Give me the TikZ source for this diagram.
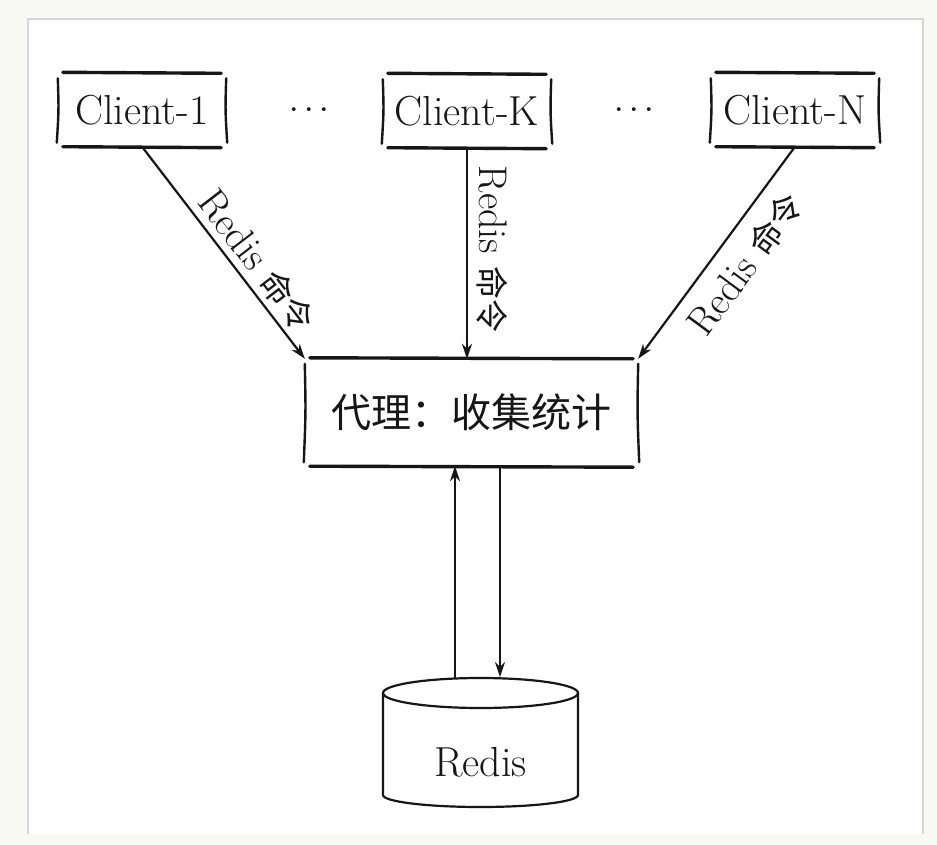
\documentclass[tikz,border=0pt]{standalone}
\usepackage{fontspec}
\usepackage{xcolor}
\usepackage{tikz}
\usetikzlibrary{arrows.meta}
\newfontfamily\cjk{Noto Sans CJK SC}
\definecolor{pageColor}{RGB}{249,249,244}
\definecolor{frameColor}{RGB}{214,214,214}
\definecolor{inkColor}{RGB}{22,22,22}

\tikzset{
  clientbox/.style={minimum width=168pt, minimum height=73pt, inner sep=0pt,
    text=inkColor, font=\fontsize{42}{46}\selectfont},
  proxybox/.style={minimum width=333pt, minimum height=107pt, inner sep=0pt,
    text=inkColor, font=\cjk\fontsize{40}{44}\selectfont},
  cmdlabel/.style={text=inkColor, inner sep=2pt, font=\fontsize{40}{44}\selectfont},
  gap/.style={text=inkColor, inner sep=0pt, font=\fontsize{46}{48}\selectfont},
  arr/.style={draw=inkColor, line width=2.2pt, -{Stealth[length=15pt,width=10pt]}},
  edge line/.style={draw=inkColor, line width=3.4pt, line cap=round},
  side line/.style={draw=inkColor, line width=2.4pt, line cap=round},
}

% hand drawn outline round a node
\newcommand{\sketchbox}[1]{%
  \draw[edge line] ([xshift=5pt,yshift=1pt]#1.north west) -- ([xshift=-5pt]#1.north east);
  \draw[edge line] ([xshift=5pt]#1.south west) -- ([xshift=-5pt,yshift=-1pt]#1.south east);
  \draw[side line] ([yshift=-5pt]#1.north west) .. controls ([xshift=1pt]#1.west) .. ([xshift=-1pt,yshift=4pt]#1.south west);
  \draw[side line] ([yshift=-5pt]#1.north east) .. controls ([xshift=-1pt]#1.east) .. ([xshift=1pt,yshift=4pt]#1.south east);
}
\newcommand{\cmd}{Redis {\cjk\fontsize{33}{36}\selectfont 命令}}
\newcommand{\spacedots}{.\kern3.5pt.\kern3.5pt.}

\begin{document}
\begin{tikzpicture}[x=1pt,y=-1pt]
\path[use as bounding box,fill=pageColor] (0,0) rectangle (937,845);
\fill[white] (28,19) rectangle (923,834);
\draw[frameColor, line width=1.5pt] (28,834) -- (28,19) -- (923,19) -- (923,834);

% clients
\node[clientbox] (c1) at (142,110) {Client-1};
\node[clientbox] (ck) at (467,111) {Client-K};
\node[clientbox] (cn) at (795,110) {Client-N};
\node[gap] (dots1) at (309,110) {\spacedots};
\node[gap] (dots2) at (634,110) {\spacedots};
\sketchbox{c1}
\sketchbox{ck}
\sketchbox{cn}

% proxy
\node[proxybox] (proxy) at (471.5,412.5) {代理：收集统计};
\sketchbox{proxy}

\draw[arr] (c1.south) -- node[cmdlabel, sloped, above=3pt, pos=0.6] {\cmd} (proxy.north west);
\draw[arr] (ck.south) -- node[cmdlabel, sloped, above=7pt, pos=0.48] {\cmd} (ck.south |- proxy.north);
\draw[arr] (cn.south) -- node[cmdlabel, sloped, below=12pt, pos=0.47] {\cmd} (proxy.north east);

% redis store
\node[text=inkColor, font=\fontsize{42}{46}\selectfont] (db) at (480.5,762) {Redis};
\draw[inkColor, line width=2.2pt] (480.5,693) ellipse [x radius=97.5, y radius=15];
\draw[inkColor, line width=2.2pt] (383,693) -- (383,795)
  arc[start angle=180, end angle=0, x radius=97.5, y radius=12] -- (578,693);
\coordinate (up) at (455,679);
\coordinate (down) at (500,677);
\draw[arr] (up) -- (up |- proxy.south);
\draw[arr] (down |- proxy.south) -- (down);
\end{tikzpicture}
\end{document}
